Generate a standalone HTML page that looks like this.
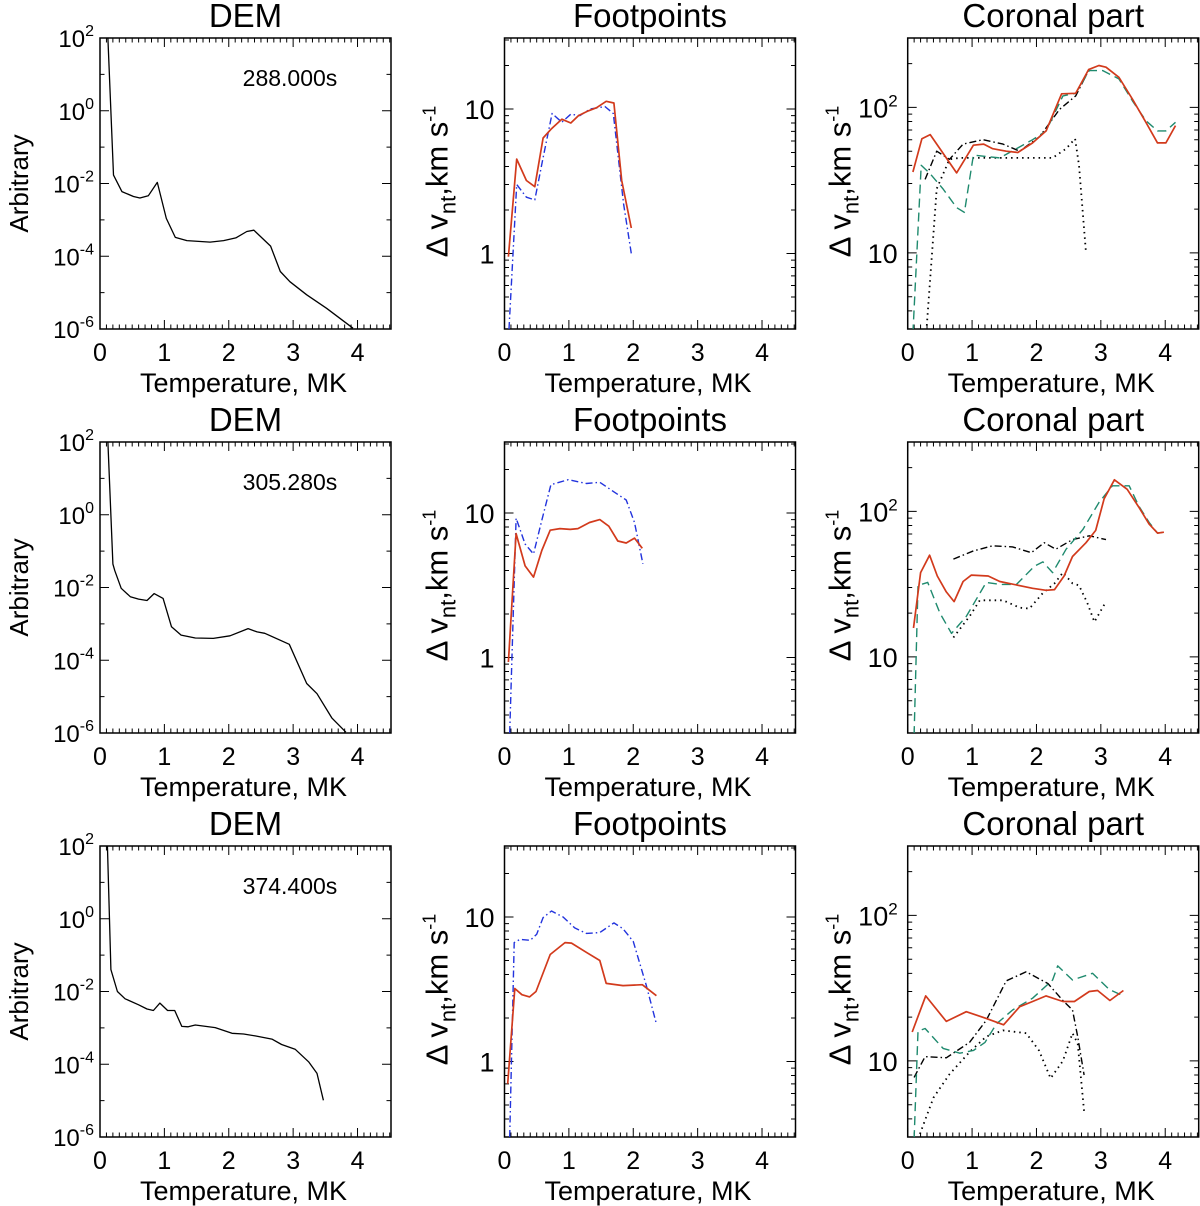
<!DOCTYPE html>
<html><head><meta charset="utf-8">
<style>
html,body{margin:0;padding:0;background:#fff;}
svg{display:block;font-family:"Liberation Sans",Arial,sans-serif;}
</style></head>
<body>
<svg id="fig" width="1200" height="1206" viewBox="0 0 1200 1206" xmlns="http://www.w3.org/2000/svg"></svg>
<script>
// ---------- data (T in MK, values as read) ----------
const demTimes = ["288.000s", "305.280s", "374.400s"];
const dem1T = [0.10,0.21,0.34,0.52,0.62,0.75,0.89,1.03,1.17,1.35,1.71,1.92,2.11,2.28,2.39,2.65,2.80,2.95,3.21,3.52,3.93];
const dem1V = [1e3,1.7e-2,6e-3,4.4e-3,4e-3,4.6e-3,1.07e-2,1.1e-3,3.3e-4,2.7e-4,2.45e-4,2.7e-4,3.2e-4,4.8e-4,5.2e-4,1.9e-4,3.8e-5,2e-5,8.7e-6,3.7e-6,1.05e-6];
const dem2T = [0.10,0.20,0.23,0.33,0.47,0.60,0.73,0.84,0.98,1.11,1.26,1.48,1.76,2.02,2.30,2.44,2.56,2.94,3.21,3.37,3.60,3.82];
const dem2V = [1e3,4.4e-2,2.9e-2,9.5e-3,5.6e-3,4.8e-3,4.4e-3,6.8e-3,5e-3,8.3e-4,4.9e-4,4.1e-4,4e-4,4.7e-4,7.4e-4,6e-4,5.5e-4,2.75e-4,2.3e-5,1.2e-5,2.6e-6,1.05e-6];
const dem3T = [0.10,0.17,0.27,0.39,0.60,0.73,0.83,0.93,1.05,1.16,1.27,1.37,1.48,1.79,2.05,2.23,2.41,2.67,2.82,3.03,3.24,3.37,3.47];
const dem3V = [1e3,4e-2,1e-2,6.3e-3,4.3e-3,3.3e-3,3e-3,4.8e-3,3e-3,3e-3,1.1e-3,1.07e-3,1.2e-3,1.02e-3,7.1e-4,6.8e-4,6e-4,4.9e-4,3.5e-4,2.6e-4,1.17e-4,5.6e-5,1.02e-5];

const fp1RedT = [0.06,0.19,0.34,0.47,0.60,0.73,0.89,1.03,1.15,1.30,1.43,1.58,1.70,1.82,1.97];
const fp1RedV = [0.95,4.5,3.2,2.9,6.3,7.3,8.5,8.0,9.0,9.7,10.2,11.3,11.0,3.2,1.5];
const fp1BlueT = [0.07,0.19,0.34,0.47,0.60,0.74,0.89,1.03,1.17,1.33,1.56,1.69,1.85,1.97];
const fp1BlueV = [0.3,3.0,2.45,2.35,4.6,9.3,8.1,9.2,9.0,10.0,10.4,9.3,2.2,1.0];
const fp2RedT = [0.06,0.18,0.32,0.45,0.58,0.71,0.86,1.02,1.14,1.32,1.48,1.62,1.76,1.89,2.02,2.14];
const fp2RedV = [0.93,7.2,4.3,3.6,5.5,7.6,7.8,7.7,7.8,8.6,9.0,8.1,6.4,6.2,6.7,5.7];
const fp2BlueT = [0.08,0.18,0.32,0.45,0.58,0.72,0.99,1.27,1.48,1.71,1.89,2.02,2.15];
const fp2BlueV = [0.3,9.2,6.1,5.2,8.9,15.7,17.0,16.0,16.3,13.9,12.3,8.6,4.45];
const fp3RedT = [0.05,0.16,0.27,0.39,0.49,0.71,0.94,1.04,1.27,1.48,1.58,1.84,2.14,2.36];
const fp3RedV = [0.7,3.2,2.9,2.8,3.05,5.5,6.65,6.6,5.7,5.0,3.47,3.35,3.4,2.85];
const fp3BlueT = [0.08,0.15,0.24,0.40,0.50,0.60,0.73,0.91,1.09,1.27,1.48,1.70,1.84,2.00,2.20,2.36];
const fp3BlueV = [0.3,6.65,7.0,6.9,7.6,9.9,11.0,10.0,8.4,7.7,7.8,9.1,8.3,6.75,3.4,1.82];

const co1RedT = [0.08,0.22,0.35,0.76,1.02,1.18,1.32,1.53,1.71,1.94,2.15,2.39,2.61,2.81,2.97,3.08,3.28,3.49,3.70,3.88,4.01,4.16];
const co1RedV = [36,61,65,35.5,55,56,52,50,49,57,69,124,125,182,194,189,161,114,79,57,57,75];
const co1GrnT = [0.08,0.21,0.35,0.55,0.76,0.88,1.02,1.43,1.94,2.15,2.41,2.61,2.82,3.03,3.28,3.49,3.70,3.88,4.01,4.16];
const co1GrnV = [2.8,40,35,27.5,20.5,19,47,45,60,69,120,125,179,179,157,111,81,69,69,79];
const co1BlkT = [0.27,0.45,0.65,0.86,1.17,1.48,1.74,2.05,2.36,2.61,2.81];
const co1BlkV = [32,50,44,56,60,56,50,63,97,120,179];
const co1DotT = [0.29,0.45,0.65,0.81,1.43,2.25,2.46,2.60,2.66,2.77];
const co1DotV = [2.9,27.6,44,45,45,45,52,61,40,10];

const co2RedT = [0.09,0.20,0.34,0.46,0.60,0.72,0.86,0.99,1.25,1.43,1.94,2.15,2.28,2.43,2.56,2.77,2.92,3.05,3.21,3.41,3.59,3.75,3.88,3.98];
const co2RedV = [15.8,38,50,36,28,24,33,36.5,36,33,29.6,28.7,29,36,49,61,74,122,165,142,107,82,71,72];
const co2GrnT = [0.10,0.16,0.31,0.50,0.68,0.91,1.22,1.43,1.69,1.97,2.10,2.25,2.46,2.72,2.97,3.18,3.44,3.59,3.75,3.88,3.98];
const co2GrnV = [2.9,31,32.5,20,14.5,19,32.5,31.5,31.5,42,45,38,55,75,115,150,150,109,84,71,72];
const co2BlkT = [0.71,1.02,1.32,1.63,1.92,2.12,2.30,2.56,2.82,3.08];
const co2BlkV = [47,53.5,58,57,52,61,55,64,68,64];
const co2DotT = [0.71,0.96,1.12,1.48,1.74,1.89,2.10,2.28,2.41,2.56,2.66,2.79,2.90,3.08];
const co2DotV = [13.6,19,24.5,24.5,21.8,21.5,27.5,32,38,32,31,23.5,17.4,24];

const co3RedT = [0.07,0.28,0.60,0.91,1.22,1.49,1.74,1.94,2.15,2.41,2.59,2.82,2.95,3.14,3.35];
const co3RedV = [15.8,28,18.7,21.8,19.6,17.7,23.6,25.6,28,25.6,25.6,30,30.5,26,30.5];
const co3GrnT = [0.10,0.16,0.27,0.55,0.81,1.02,1.20,1.38,1.63,1.94,2.25,2.33,2.56,2.87,3.13,3.35];
const co3GrnV = [2.9,16,16.7,12.2,11.3,11.8,13.4,18,22.4,27,36,45,36,40,31,28];
const co3BlkT = [0.10,0.27,0.60,0.96,1.22,1.53,1.84,2.18,2.41,2.56,2.64,2.74];
const co3BlkV = [7.7,10.7,10.5,13.4,19,35.5,41,34,26,22.4,14.7,8];
const co3DotT = [0.16,0.40,0.65,0.96,1.22,1.48,1.84,2.04,2.22,2.41,2.56,2.64,2.74];
const co3DotV = [2.9,5.6,8.1,11.5,14.7,16.2,15.5,11.8,7.6,10,15.5,13.2,4.5];

const xTicks = [0,1,2,3,4];

// ---------- drawing ----------
const NS = "http://www.w3.org/2000/svg";
const svg = document.getElementById("fig");
const colL = [100, 504.5, 907.7], rowT = [38, 442, 846], W = 291, H = 291, XMAX = 4.52;
const RED = "#d23a1c", GRN = "#1f8a6e", BLU = "#2233dd", BLK = "#000";

function mk(tag, attrs, parent) {
  const e = document.createElementNS(NS, tag);
  for (const k in attrs) e.setAttribute(k, attrs[k]);
  (parent || svg).appendChild(e);
  return e;
}

function panel(r, c, kind, title) {
  const x0 = colL[c], y0 = rowT[r];
  const g = mk("g", {});
  
  
  let lmin, lmax;
  if (kind === "dem") { lmin = -6; lmax = 2; }
  else if (kind === "foot") { lmin = Math.log10(0.3); lmax = Math.log10(31); }
  else { lmin = Math.log10(3); lmax = Math.log10(300); }
  const sx = t => x0 + t / XMAX * W;
  const sy = v => y0 + H - (Math.log10(v) - lmin) / (lmax - lmin) * H;
  const ly = l => y0 + H - (l - lmin) / (lmax - lmin) * H;

  const tt = mk("text", {x: x0 + W / 2, y: y0 - 11, "text-anchor": "middle", "font-size": 33}, g);
  tt.textContent = title;
  
  

  const cid = "clip" + r + c;
  const cp = mk("clipPath", {id: cid}, g);
  mk("rect", {x: x0, y: y0, width: W, height: H}, cp);

  const fr = mk("rect", {x: x0, y: y0, width: W, height: H, fill: "none", stroke: "#000", "stroke-width": 1.5}, g);
  
  

  let tp = "";
  for (let i = 0; i <= 45; i++) {
    const t = i / 10; const X = sx(t); const len = (i % 10 === 0) ? 9 : 4.5;
    tp += `M${X},${y0 + H}v${-len}M${X},${y0}v${len}`;
  }
  if (kind === "dem") {
    for (let l = -6; l <= 2; l++) { const Y = ly(l); const len = (l % 2 === 0) ? 9 : 4.5; tp += `M${x0},${Y}h${len}M${x0 + W},${Y}h${-len}`; }
  } else {
    for (let d = -1; d <= 3; d++) for (let m = 1; m <= 9; m++) {
      const l = d + Math.log10(m); if (l < lmin - 1e-6 || l > lmax + 1e-6) continue;
      const Y = ly(l); const len = (m === 1) ? 9 : 4.5;
      tp += `M${x0},${Y}h${len}M${x0 + W},${Y}h${-len}`;
    }
  }
  const tk = mk("path", {d: tp, stroke: "#000", "stroke-width": 1, fill: "none"}, g);
  
  

  xTicks.forEach(t => {
    const e = mk("text", {x: sx(t), y: y0 + H + 32, "text-anchor": "middle", "font-size": 25}, g);
    e.textContent = t;
    
    
  });
  const xt = mk("text", {x: x0 + W / 2 - 2, y: y0 + H + 63, "text-anchor": "middle", "font-size": 27}, g);
  xt.textContent = "Temperature, MK";
  
  

  if (kind === "dem") {
    [2, 0, -2, -4, -6].forEach(p => {
      const e = mk("text", {x: x0 - 6, y: ly(p) + 9, "text-anchor": "end", "font-size": 24}, g);
      e.innerHTML = `10<tspan dy="-11" font-size="16">${p}</tspan>`;
      
      
    });
    const yt = mk("text", {transform: `translate(${x0 - 72},${y0 + H / 2}) rotate(-90)`, "text-anchor": "middle", "font-size": 26}, g);
    yt.textContent = "Arbitrary";
    
    
    const tl = mk("text", {x: x0 + 190, y: y0 + 48, "text-anchor": "middle", "font-size": 23}, g);
    tl.textContent = demTimes[r];
    
    
  } else {
    const labs = kind === "foot" ? [[10, "10"], [1, "1"]] : [[100, "10<tspan dy='-11' font-size='17'>2</tspan>"], [10, "10"]];
    labs.forEach(([v, s]) => {
      const e = mk("text", {x: x0 - 10, y: sy(v) + 10, "text-anchor": "end", "font-size": 27}, g);
      e.innerHTML = s;
      
      
    });
    const yt = mk("text", {transform: `translate(${x0 - 57},${y0 + H / 2 - 2}) rotate(-90)`, "text-anchor": "middle", "font-size": 31}, g);
    yt.innerHTML = `Δ v<tspan dy="8" font-size="22">nt</tspan><tspan dy="-8">,km s</tspan><tspan dy="-12" font-size="18">-1</tspan>`;
    
    
  }
  return {g, sx, sy, cid};
}

function series(p, T, V, color, dash, name, w) {
  const d = T.map((t, i) => (i ? "L" : "M") + p.sx(t).toFixed(1) + "," + p.sy(V[i]).toFixed(1)).join("");
  const e = mk("path", {d, fill: "none", stroke: color, "stroke-width": w || 1.4, "stroke-dasharray": dash || "none", "clip-path": `url(#${p.cid})`, "stroke-linejoin": "round"}, p.g);
  
  
}

const demData = [[dem1T, dem1V], [dem2T, dem2V], [dem3T, dem3V]];
const fpData = [[fp1RedT, fp1RedV, fp1BlueT, fp1BlueV], [fp2RedT, fp2RedV, fp2BlueT, fp2BlueV], [fp3RedT, fp3RedV, fp3BlueT, fp3BlueV]];
const coData = [
  [co1RedT, co1RedV, co1GrnT, co1GrnV, co1BlkT, co1BlkV, co1DotT, co1DotV],
  [co2RedT, co2RedV, co2GrnT, co2GrnV, co2BlkT, co2BlkV, co2DotT, co2DotV],
  [co3RedT, co3RedV, co3GrnT, co3GrnV, co3BlkT, co3BlkV, co3DotT, co3DotV]];

for (let r = 0; r < 3; r++) {
  const p1 = panel(r, 0, "dem", "DEM");
  series(p1, demData[r][0], demData[r][1], BLK, null, "dem-line", 1.3);
  const p2 = panel(r, 1, "foot", "Footpoints");
  series(p2, fpData[r][2], fpData[r][3], BLU, "7,3,1.5,3", "footpoint-blue-dashdot");
  series(p2, fpData[r][0], fpData[r][1], RED, null, "footpoint-red-line", 1.7);
  const p3 = panel(r, 2, "coro", "Coronal part");
  series(p3, coData[r][6], coData[r][7], BLK, "1.5,4", "coronal-dotted", 1.8);
  series(p3, coData[r][4], coData[r][5], BLK, "7,3,1.5,3", "coronal-black-dashdot");
  series(p3, coData[r][2], coData[r][3], GRN, "9,5", "coronal-green-dashed");
  series(p3, coData[r][0], coData[r][1], RED, null, "coronal-red-line", 1.7);
}
</script>
</body></html>
